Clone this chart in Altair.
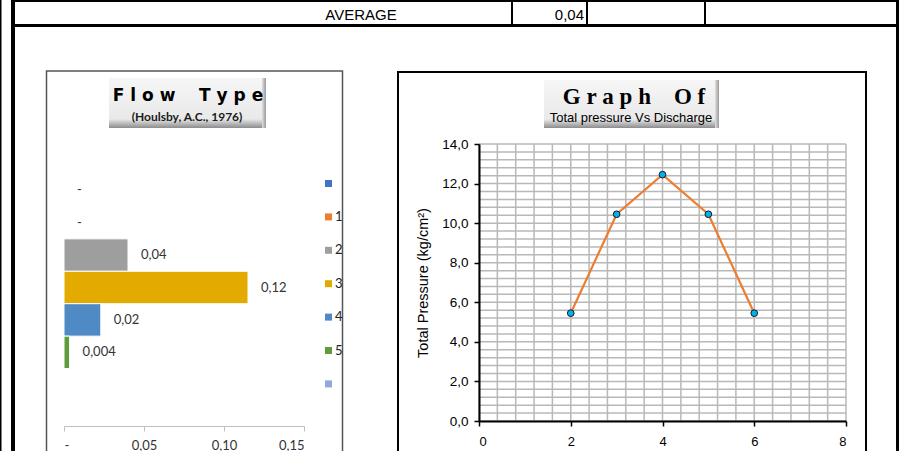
import altair as alt
import pandas as pd

# ---------------- data ----------------
# Left chart: Flow Type (Houlsby, A.C., 1976)
flow_cats = [" ", "1", "2", "3", "4", "5", "  "]
flow_vals = [0.0, 0.0, 0.04, 0.115, 0.023, 0.0035, None]
flow_labels = ["-", "-", "0,04", "0,12", "0,02", "0,004", ""]
flow_colors = ["#4472C4", "#ED7D31", "#9E9E9E", "#E3AA00", "#4F8AC4", "#5E9C3E", "#8EA9DB"]
flow_ticks = [0, 0.05, 0.10, 0.15]

# Right chart: Total pressure Vs Discharge
discharge = [2, 3, 4, 5, 6]
pressure = [5.45, 10.45, 12.45, 10.45, 5.45]
x_ticks = [0, 2, 4, 6, 8]
y_ticks = [0, 2, 4, 6, 8, 10, 12, 14]

avg_label = "AVERAGE"
avg_value = "0,04"

# ---------------- helpers for decoration ----------------
one = pd.DataFrame({"d": [0]})


def box(x, x2, y, y2, **kw):
    return alt.Chart(one).mark_rect(**kw).encode(
        x=alt.value(x), x2=alt.value(x2), y=alt.value(y), y2=alt.value(y2)
    )


def label(text, x, y, **kw):
    return alt.Chart(one).mark_text(text=text, **kw).encode(x=alt.value(x), y=alt.value(y))


title_grad = alt.Gradient(
    gradient="linear",
    stops=[
        alt.GradientStop(color="#F6F6F6", offset=0),
        alt.GradientStop(color="#E9E9E9", offset=0.82),
        alt.GradientStop(color="#8C8C8C", offset=1),
    ],
    x1=0, x2=0, y1=0, y2=1,
)
side_grad = alt.Gradient(
    gradient="linear",
    stops=[
        alt.GradientStop(color="#E0E0E0", offset=0),
        alt.GradientStop(color="#9A9A9A", offset=1),
    ],
    x1=0, x2=1, y1=0, y2=0,
)

NB = "\u00a0"
flow_title = NB.join("Flow") + NB * 4 + NB.join("Type")

decor = [
    # spreadsheet lines
    box(0, 1.5, 0, 470, color="black"),
    box(11, 15, 0, 470, color="black"),
    box(896, 899, 0, 470, color="black"),
    box(11, 899, 0, 2, color="black"),
    box(11, 899, 24, 27, color="black"),
    box(511, 513, 0, 25, color="black"),
    box(586, 588, 0, 25, color="black"),
    box(704, 706, 0, 25, color="black"),
    label(avg_label, 361, 15, font="Liberation Sans", fontSize=15, color="black",
          align="center", baseline="middle"),
    label(avg_value, 584, 15, font="Liberation Sans", fontSize=15, color="black",
          align="right", baseline="middle"),
    # chart frames
    box(46.5, 342.5, 71, 470, fillOpacity=0, stroke="#555555", strokeWidth=1.5),
    box(398, 866, 72, 470, fillOpacity=0, stroke="black", strokeWidth=2),
    # left title box
    box(109, 266, 78, 128, fill=title_grad),
    box(262, 266, 78, 128, fill=side_grad),
    label(flow_title, 188, 96, font="DejaVu Sans", fontSize=17, fontWeight="bold", color="black",
          align="center", baseline="middle"),
    label("(Houlsby, A.C., 1976)", 187, 117, font="Lato", fontSize=12, fontWeight="bold",
          color="#1a1a1a", align="center", baseline="middle"),
    # right title box
    box(544, 719, 80, 128, fill=title_grad),
    box(715, 719, 80, 128, fill=side_grad),
    label("G\u2005r\u2005a\u2005p\u2005h\u2003O\u2005f", 634, 97, font="Liberation Serif",
          fontSize=23, fontWeight="bold", color="black", align="center", baseline="middle"),
    label("Total pressure Vs Discharge", 631, 118, font="Liberation Sans", fontSize=13,
          color="black", align="center", baseline="middle"),
]

# ---------------- left chart ----------------
flow_df = pd.DataFrame({"cat": flow_cats, "val": flow_vals, "lab": flow_labels})
lx = alt.Scale(domain=[0, 0.15], range=[64, 304], nice=False, zero=True)
ly = alt.Scale(domain=flow_cats, range=[174, 401], paddingInner=0, paddingOuter=0)
lx_axis = alt.Axis(
    values=flow_ticks, orient="bottom", offset=-25, grid=False, title=None, zindex=1,
    domainColor="#BFBFBF", domainWidth=1, tickColor="#BFBFBF", tickSize=5,
    labelExpr="datum.value == 0 ? '-' : replace(format(datum.value, '.2f'), '.', ',')",
    labelFont="Lato", labelFontSize=13, labelColor="#333333", labelPadding=8,
)

bars = alt.Chart(flow_df).mark_bar(stroke="white", strokeWidth=1).encode(
    x=alt.X("val:Q", scale=lx, axis=lx_axis),
    y=alt.Y("cat:N", scale=ly, axis=None),
    color=alt.Color(
        "cat:N",
        scale=alt.Scale(domain=flow_cats, range=flow_colors),
        legend=alt.Legend(
            orient="none", legendX=322, legendY=177, direction="vertical", title=None,
            symbolType="square", symbolSize=49, symbolStrokeWidth=0,
            labelFont="Lato", labelFontSize=13, labelColor="#222222",
            rowPadding=19.4, labelOffset=0, padding=0,
        ),
    ),
)
bar_text = alt.Chart(flow_df).mark_text(
    align="left", baseline="middle", dx=13, font="Lato", fontSize=13, color="#333333"
).encode(
    x=alt.X("val:Q", scale=lx, axis=lx_axis),
    y=alt.Y("cat:N", scale=ly, axis=None),
    text="lab:N",
)
left = alt.layer(bars, bar_text)

# ---------------- right chart ----------------
p_df = pd.DataFrame({"q": discharge, "p": pressure})
rx = alt.Scale(domain=[0, 8], range=[479, 846], nice=False, zero=False)
ry = alt.Scale(domain=[0, 14], range=[421, 144], nice=False, zero=False)
rx_axis = alt.Axis(
    values=x_ticks, orient="bottom", offset=-30, grid=False, title=None, zindex=1,
    domainColor="black", domainWidth=2, tickColor="black", tickWidth=1.5, tickSize=5,
    labelExpr="format(datum.value, 'd')",
    labelFont="Liberation Sans", labelFontSize=13, labelColor="black", labelPadding=9,
)
ry_axis = alt.Axis(
    values=y_ticks, orient="left", offset=-479, grid=False, zindex=1,
    title="Total Pressure (kg/cm²)", titleFont="Liberation Sans", titleFontSize=14.5,
    titleFontWeight="normal", titleColor="black", titlePadding=11,
    domainColor="black", domainWidth=2, tickColor="black", tickWidth=1.5, tickSize=5,
    labelExpr="replace(format(datum.value, '.1f'), '.', ',')",
    labelFont="Liberation Sans", labelFontSize=13.5, labelColor="black", labelPadding=6,
)

vgrid = alt.Chart(alt.sequence(0, 8.2, 0.4, as_="g")).mark_rule(
    color="#B8B8B8", strokeWidth=1.5
).encode(
    x=alt.X("g:Q", scale=rx, axis=rx_axis),
    y=alt.Y(datum=0, scale=ry, axis=ry_axis),
    y2=alt.Y2(datum=14),
)
hgrid = alt.Chart(alt.sequence(0, 14.2, 0.4, as_="g")).mark_rule(
    color="#B8B8B8", strokeWidth=1.5
).encode(
    y=alt.Y("g:Q", scale=ry, axis=ry_axis),
    x=alt.X(datum=0, scale=rx, axis=rx_axis),
    x2=alt.X2(datum=8),
)
line = alt.Chart(p_df).mark_line(color="#ED7D31", strokeWidth=2.2).encode(
    x=alt.X("q:Q", scale=rx, axis=rx_axis),
    y=alt.Y("p:Q", scale=ry, axis=ry_axis),
)
pts = alt.Chart(p_df).mark_point(
    shape="circle", filled=True, fill="#00B0F0", stroke="#1a1a1a", strokeWidth=1,
    size=45, opacity=1,
).encode(
    x=alt.X("q:Q", scale=rx, axis=rx_axis),
    y=alt.Y("p:Q", scale=ry, axis=ry_axis),
)
right = alt.layer(vgrid, hgrid, line, pts)

chart = (
    alt.layer(*decor, left, right)
    .resolve_scale(x="independent", y="independent")
    .properties(width=899, height=451, autosize=alt.AutoSizeParams(type="none"), padding=0)
    .configure_view(strokeWidth=0)
)

chart.save("out.html", embed_options={"renderer": "svg", "actions": False})
